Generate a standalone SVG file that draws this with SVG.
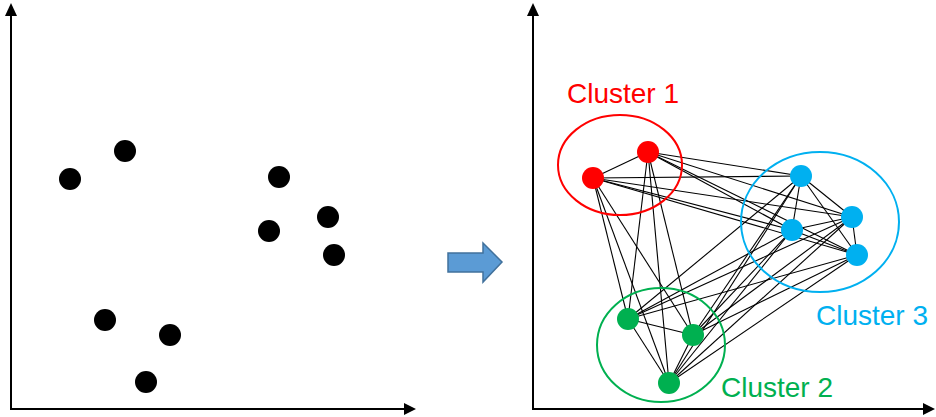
<svg xmlns="http://www.w3.org/2000/svg" width="936" height="417" viewBox="0 0 936 417">
<defs>
<style>
.ax{stroke:#000;stroke-width:2;fill:none}
.e{stroke:#000;stroke-width:1.1}
.bd{fill:#000}
.r{fill:#FF0000}.b{fill:#00B0F0}.g{fill:#00B050}
.lbl{font-family:"Liberation Sans",Arial,sans-serif;font-size:28px}
</style>
</defs>
<rect width="936" height="417" fill="#fff"/>
<g id="axes-left">
<line class="ax" x1="11" y1="409" x2="11" y2="14"/>
<path d="M11,3 L5,16 L17,16 Z" fill="#000"/>
<line class="ax" x1="10" y1="409" x2="405" y2="409"/>
<path d="M416,409 L404,403 L404,415 Z" fill="#000"/>
</g>
<g id="axes-right">
<line class="ax" x1="533" y1="409" x2="533" y2="14"/>
<path d="M533,3 L527,16 L539,16 Z" fill="#000"/>
<line class="ax" x1="532" y1="409" x2="924" y2="409"/>
<path d="M935,409 L923,403 L923,415 Z" fill="#000"/>
</g>
<g id="points-left">
<circle class="bd" cx="125" cy="151" r="11"/>
<circle class="bd" cx="70" cy="179" r="11"/>
<circle class="bd" cx="279" cy="177" r="11"/>
<circle class="bd" cx="328" cy="217" r="11"/>
<circle class="bd" cx="269" cy="231" r="11"/>
<circle class="bd" cx="334" cy="255" r="11"/>
<circle class="bd" cx="105" cy="320" r="11"/>
<circle class="bd" cx="170" cy="335" r="11"/>
<circle class="bd" cx="146" cy="382" r="11"/>
</g>
<g id="transform-arrow">
<path d="M448,253 L483,253 L483,243 L502,262 L483,282 L483,272 L448,272 Z" fill="#5B9BD5" stroke="#41719C" stroke-width="1.5"/>
</g>
<g id="connectors">
<line class="e" x1="648" y1="152" x2="593" y2="178"/>
<line class="e" x1="648" y1="152" x2="801" y2="176"/>
<line class="e" x1="648" y1="152" x2="852" y2="217"/>
<line class="e" x1="648" y1="152" x2="792" y2="230"/>
<line class="e" x1="648" y1="152" x2="857" y2="255"/>
<line class="e" x1="648" y1="152" x2="628" y2="319"/>
<line class="e" x1="648" y1="152" x2="693" y2="335"/>
<line class="e" x1="648" y1="152" x2="669" y2="383"/>
<line class="e" x1="593" y1="178" x2="801" y2="176"/>
<line class="e" x1="593" y1="178" x2="852" y2="217"/>
<line class="e" x1="593" y1="178" x2="792" y2="230"/>
<line class="e" x1="593" y1="178" x2="857" y2="255"/>
<line class="e" x1="593" y1="178" x2="628" y2="319"/>
<line class="e" x1="593" y1="178" x2="693" y2="335"/>
<line class="e" x1="593" y1="178" x2="669" y2="383"/>
<line class="e" x1="801" y1="176" x2="852" y2="217"/>
<line class="e" x1="801" y1="176" x2="792" y2="230"/>
<line class="e" x1="801" y1="176" x2="857" y2="255"/>
<line class="e" x1="801" y1="176" x2="628" y2="319"/>
<line class="e" x1="801" y1="176" x2="693" y2="335"/>
<line class="e" x1="801" y1="176" x2="669" y2="383"/>
<line class="e" x1="852" y1="217" x2="792" y2="230"/>
<line class="e" x1="852" y1="217" x2="857" y2="255"/>
<line class="e" x1="852" y1="217" x2="628" y2="319"/>
<line class="e" x1="852" y1="217" x2="693" y2="335"/>
<line class="e" x1="852" y1="217" x2="669" y2="383"/>
<line class="e" x1="792" y1="230" x2="857" y2="255"/>
<line class="e" x1="792" y1="230" x2="628" y2="319"/>
<line class="e" x1="792" y1="230" x2="693" y2="335"/>
<line class="e" x1="792" y1="230" x2="669" y2="383"/>
<line class="e" x1="857" y1="255" x2="628" y2="319"/>
<line class="e" x1="857" y1="255" x2="693" y2="335"/>
<line class="e" x1="857" y1="255" x2="669" y2="383"/>
<line class="e" x1="628" y1="319" x2="693" y2="335"/>
<line class="e" x1="628" y1="319" x2="669" y2="383"/>
<line class="e" x1="693" y1="335" x2="669" y2="383"/>
</g>
<g id="cluster1">
<ellipse cx="620" cy="165" rx="62" ry="50" fill="none" stroke="#FF0000" stroke-width="2"/>
<circle class="r" cx="648" cy="152" r="11"/>
<circle class="r" cx="593" cy="178" r="11"/>
<text class="lbl" x="567" y="103" fill="#FF0000">Cluster 1</text>
</g>
<g id="cluster3">
<ellipse cx="820" cy="222" rx="79" ry="70" fill="none" stroke="#00B0F0" stroke-width="2"/>
<circle class="b" cx="801" cy="176" r="11"/>
<circle class="b" cx="852" cy="217" r="11"/>
<circle class="b" cx="792" cy="230" r="11"/>
<circle class="b" cx="857" cy="255" r="11"/>
<text class="lbl" x="816" y="325" fill="#00B0F0">Cluster 3</text>
</g>
<g id="cluster2">
<ellipse cx="661" cy="345" rx="64" ry="57" fill="none" stroke="#00B050" stroke-width="2"/>
<circle class="g" cx="628" cy="319" r="11"/>
<circle class="g" cx="693" cy="335" r="11"/>
<circle class="g" cx="669" cy="383" r="11"/>
<text class="lbl" x="721" y="397" fill="#00B050">Cluster 2</text>
</g>
</svg>
